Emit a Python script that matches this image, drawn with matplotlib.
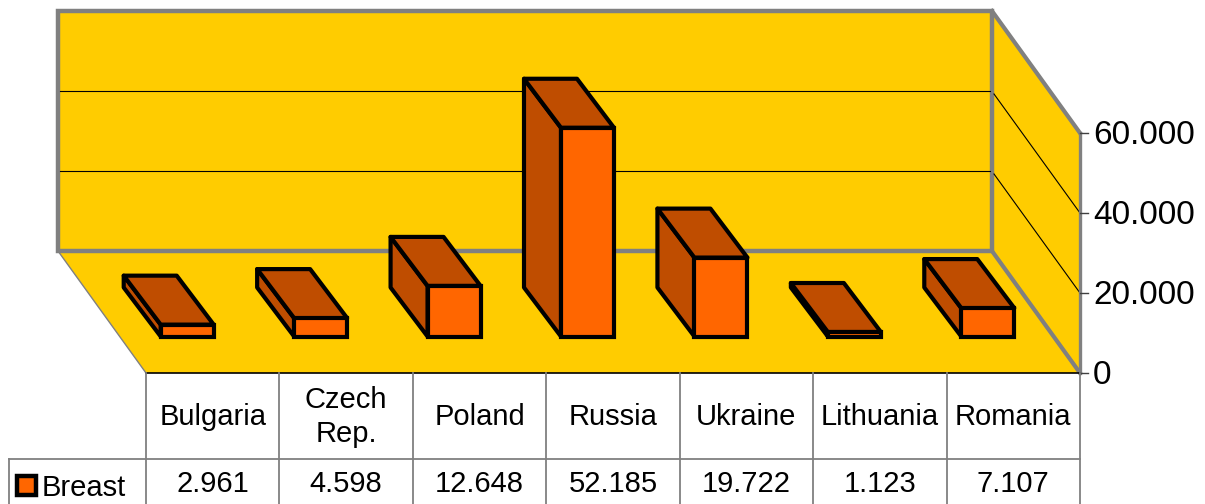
import matplotlib
matplotlib.use("Agg")
import matplotlib.pyplot as plt
from matplotlib.patches import Polygon, Rectangle

categories = ["Bulgaria", "Czech\nRep.", "Poland", "Russia", "Ukraine", "Lithuania", "Romania"]
values = [2961, 4598, 12648, 52185, 19722, 1123, 7107]
value_labels = ["2.961", "4.598", "12.648", "52.185", "19.722", "1.123", "7.107"]
series_name = "Breast"
ticks = [0, 20000, 40000, 60000]
tick_labels = ["0", "20.000", "40.000", "60.000"]

YELLOW = "#ffcc00"
ORANGE = "#ff6600"
DARK = "#bf4d00"
GRAY = "#808080"

plt.rcParams["font.family"] = ["Liberation Sans", "DejaVu Sans"]

fig = plt.figure(figsize=(12.05, 5.04), dpi=100)
ax = fig.add_axes([0, 0, 1, 1])
ax.set_xlim(0, 1205)
ax.set_ylim(504, 0)
ax.axis("off")

# chart geometry in pixels
x0, x1, y0 = 146, 1080, 373
px_per_unit = 4 / 1000
dx, dy = -88, -122
ymax = max(ticks)
slot = (x1 - x0) / len(categories)
bar_w = 53
bar_dx, bar_dy = -37, -49


def yv(v):
    return v * px_per_unit


def poly(pts, face, edge, lw, z, join="miter"):
    ax.add_patch(Polygon(pts, closed=True, facecolor=face, edgecolor=edge, linewidth=lw, zorder=z, joinstyle=join))


# walls and floor
top = yv(ymax)
poly([(x0 + dx, y0 + dy), (x1 + dx, y0 + dy), (x1, y0), (x0, y0)], YELLOW, "none", 0, 1)
poly([(x1 + dx, y0 + dy), (x1, y0), (x1, y0 - top), (x1 + dx, y0 + dy - top)], YELLOW, "none", 0, 1)
poly([(x0 + dx, y0 + dy), (x1 + dx, y0 + dy), (x1 + dx, y0 + dy - top), (x0 + dx, y0 + dy - top)], YELLOW, GRAY, 3.2, 3)
ax.plot([x0 + dx, x0], [y0 + dy, y0], color=GRAY, lw=1, zorder=2)
ax.plot([x1 + dx, x1], [y0 + dy, y0], color=GRAY, lw=3, zorder=2)
ax.plot([x1 + dx, x1], [y0 + dy - top, y0 - top], color=GRAY, lw=3, zorder=2)

# gridlines
for t in ticks[1:-1]:
    h = yv(t)
    ax.plot([x0 + dx + 2, x1 + dx - 2], [y0 + dy - h, y0 + dy - h], color="black", lw=0.8, zorder=4)
    ax.plot([x1 + dx + 2, x1], [y0 + dy - h + 3, y0 - h], color="black", lw=0.8, zorder=4)

# axis with ticks
ax.plot([x1, x1], [y0 - top, y0], color=GRAY, lw=2.4, zorder=5)
for t, lab in zip(ticks, tick_labels):
    y = y0 - yv(t)
    ax.plot([x1, x1 + 8], [y, y], color="#404040", lw=1, zorder=5)
    ax.text(x1 + 13, y + 2, lab, ha="left", va="center", fontsize=24, color="black", zorder=6)

# bars
base_y = y0 + dy / 2 + bar_dy / -2
for i, v in enumerate(values):
    cx = x0 + slot * (i + 0.5) + dx / 2 - bar_dx / 2
    xl, xr = cx - bar_w / 2, cx + bar_w / 2
    h = yv(v)
    poly([(xl, base_y), (xl + bar_dx, base_y + bar_dy), (xl + bar_dx, base_y + bar_dy - h), (xl, base_y - h)], DARK, "black", 3, 10 + i, "round")
    poly([(xl, base_y - h), (xl + bar_dx, base_y + bar_dy - h), (xr + bar_dx, base_y + bar_dy - h), (xr, base_y - h)], DARK, "black", 3, 10 + i, "round")
    poly([(xl, base_y), (xr, base_y), (xr, base_y - h), (xl, base_y - h)], ORANGE, "black", 3, 10 + i)

# data table
row1, row2 = 459, 504
ax.plot([x0, x1], [y0, y0], color="black", lw=1.2, zorder=5)
ax.plot([x1, x1], [y0, 504], color=GRAY, lw=1.3, zorder=5)
ax.plot([9, x1], [row1, row1], color=GRAY, lw=1.3, zorder=5)
ax.plot([9, 9], [row1, row2], color=GRAY, lw=1.3, zorder=5)
for i in range(len(categories)):
    xe = x0 + slot * i
    ax.plot([xe, xe], [y0, row2], color=GRAY, lw=1.3, zorder=5)
    xc = xe + slot / 2
    ax.text(xc, (y0 + row1) / 2 + 1, categories[i], ha="center", va="center", fontsize=21, linespacing=1.3, color="black")
    ax.text(xc, 484, value_labels[i], ha="center", va="center", fontsize=21, color="black")

# legend key in the table
ax.add_patch(Rectangle((16.5, 476), 19, 19, facecolor=ORANGE, edgecolor="black", linewidth=3.2, zorder=6))
ax.text(42, 488, series_name, ha="left", va="center", fontsize=21, color="black")

fig.savefig("out.png", dpi=100)
